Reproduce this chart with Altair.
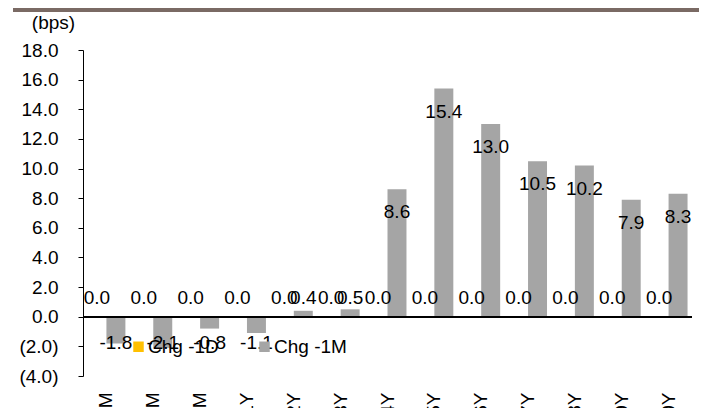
import altair as alt
import pandas as pd

tenors = ["1M", "3M", "6M", "1Y", "2Y", "3Y", "4Y", "5Y", "6Y", "7Y", "8Y", "9Y", "10Y"]
chg_1d = [0.0, 0.0, 0.0, 0.0, 0.0, 0.0, 0.0, 0.0, 0.0, 0.0, 0.0, 0.0, 0.0]
chg_1m = [-1.8, -2.1, -0.8, -1.1, 0.4, 0.5, 8.6, 15.4, 13.0, 10.5, 10.2, 7.9, 8.3]
series_names = ["Chg -1D", "Chg -1M"]
series_colors = ["#FFC000", "#A5A5A5"]
y_ticks = [-4, -2, 0, 2, 4, 6, 8, 10, 12, 14, 16, 18]

rows = []
for i, t in enumerate(tenors):
    rows.append({"tenor": t, "series": series_names[0], "value": chg_1d[i]})
    rows.append({"tenor": t, "series": series_names[1], "value": chg_1m[i]})
df = pd.DataFrame(rows)

FONT = "Liberation Sans"
FS = 19

x_enc = alt.X("tenor:N", sort=tenors, title=None,
              scale=alt.Scale(paddingInner=0.19, paddingOuter=0.095),
              axis=alt.Axis(labelAngle=-90, labelAlign="right", labelBaseline="middle",
                            ticks=False, domain=False, labelPadding=16,
                            labelFont=FONT, labelFontSize=FS, labelColor="black"))
xo_enc = alt.XOffset("series:N", sort=series_names, scale=alt.Scale(paddingInner=0, paddingOuter=0))
y_scale = alt.Scale(domain=[-4, 18], nice=False, zero=False)
y_axis = alt.Axis(values=y_ticks, tickCount=30, grid=False, tickSize=5, tickColor="black",
                  domainColor="black", labelPadding=20, labelOverlap=False,
                  labelExpr="datum.value < 0 ? '(' + format(-datum.value, '.1f') + ')' : format(datum.value, '.1f')",
                  labelFont=FONT, labelFontSize=FS, labelColor="black",
                  title="(bps)", titleAngle=0, titleX=-30, titleY=-28,
                  titleAlign="center", titleBaseline="middle",
                  titleFont=FONT, titleFontSize=FS, titleFontWeight="normal",
                  titleColor="black")

base = alt.Chart(df).transform_calculate(
    lbl="(datum.value < 0 ? '-' : '') + format(abs(datum.value), '.1f')"
)

bars = base.mark_bar().encode(
    x=x_enc,
    xOffset=xo_enc,
    y=alt.Y("value:Q", scale=y_scale, axis=y_axis),
    color=alt.Color("series:N", sort=series_names,
                    scale=alt.Scale(domain=series_names, range=series_colors),
                    legend=alt.Legend(orient="none", legendX=46, legendY=287, direction="horizontal",
                                      title=None, symbolType="square", symbolSize=110,
                                      symbolStrokeWidth=0, labelFont=FONT, labelFontSize=FS,
                                      labelColor="black", columnPadding=36, labelOffset=0,
                                      padding=0)),
)

zero_rule = base.mark_rule(color="black", strokeWidth=1.2).encode(y=alt.datum(0))

txt_common = dict(font=FONT, fontSize=FS, color="black", baseline="middle", align="center")

lab_big = base.transform_filter("datum.value >= 2").mark_text(dy=23, **txt_common).encode(
    x=x_enc, xOffset=xo_enc, y=alt.Y("value:Q", scale=y_scale, axis=y_axis),
    text=alt.Text("lbl:N"))
lab_small = base.transform_filter("datum.value >= 0 && datum.value < 2").transform_calculate(
    ly="0").mark_text(dy=-19, **txt_common).encode(
    x=x_enc, xOffset=xo_enc, y=alt.Y("ly:Q", scale=y_scale, axis=y_axis),
    text=alt.Text("lbl:N"))
lab_neg = base.transform_filter("datum.value < 0").transform_calculate(
    ly="0").mark_text(dy=26, **txt_common).encode(
    x=x_enc, xOffset=xo_enc, y=alt.Y("ly:Q", scale=y_scale, axis=y_axis),
    text=alt.Text("lbl:N"))

top_line = base.mark_rule(color="#7A6A64", strokeWidth=4).encode(
    x=alt.value(-70), x2=alt.value(616), y=alt.value(-40))

chart = alt.layer(bars, zero_rule, lab_small, lab_neg, lab_big, top_line).properties(
    width=609, height=326,
    background="white",
    autosize=alt.AutoSizeParams(type="none"),
    padding={"left": 75, "top": 42, "right": 7, "bottom": 32},
).configure_view(stroke=None).configure_axis(labelOverlap=False)

chart.save("out.html", embed_options={"renderer": "svg", "actions": False})
